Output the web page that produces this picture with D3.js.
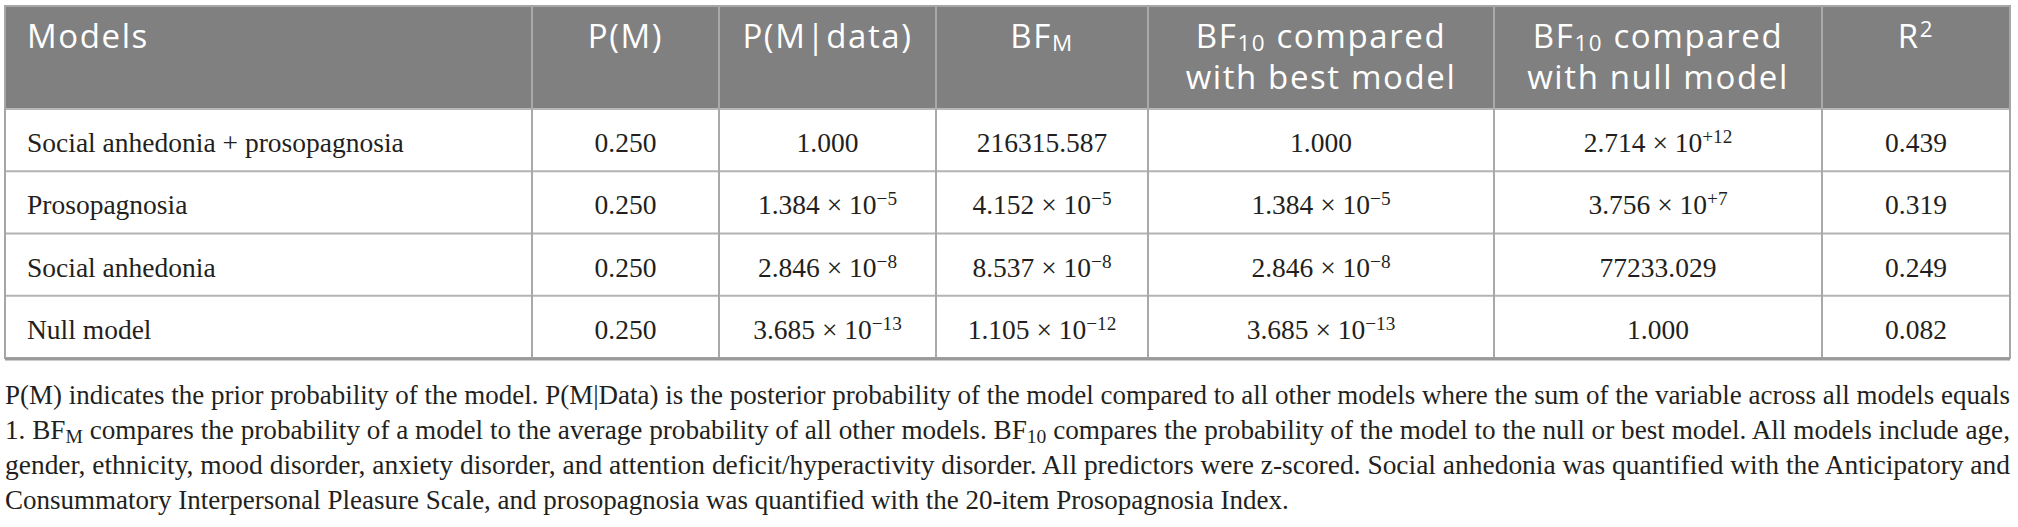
<!DOCTYPE html>
<html>
<head>
<meta charset="utf-8">
<script src="https://cdn.jsdelivr.net/npm/d3@7"></script>
<style>
    html, body { margin: 0; padding: 0; background: #fff; }
    svg { display: block; }
</style>
</head>
<body>
<div id="chart"><svg></svg></div>
<script>
// Table data.
var headers = [
    ['Models'],
    ['P(M)'],
    ['P(M|data)'],
    ['BF_{M}'],
    ['BF_{10} compared', 'with best model'],
    ['BF_{10} compared', 'with null model'],
    ['R^{2}']
];
var models = ['Social anhedonia + prosopagnosia', 'Prosopagnosia', 'Social anhedonia', 'Null model'];
var priorProb = ['0.250', '0.250', '0.250', '0.250'];
var posteriorProb = ['1.000', '1.384e-5', '2.846e-8', '3.685e-13'];
var bfM = ['216315.587', '4.152e-5', '8.537e-8', '1.105e-12'];
var bf10Best = ['1.000', '1.384e-5', '2.846e-8', '3.685e-13'];
var bf10Null = ['2.714e+12', '3.756e+7', '77233.029', '1.000'];
var rSquared = ['0.439', '0.319', '0.249', '0.082'];

var footnote = [
    'P(M) indicates the prior probability of the model. P(M|Data) is the posterior probability of the model compared to all other models where the sum of the variable across all models equals',
    '1. BF_{M} compares the probability of a model to the average probability of all other models. BF_{10} compares the probability of the model to the null or best model. All models include age,',
    'gender, ethnicity, mood disorder, anxiety disorder, and attention deficit/hyperactivity disorder. All predictors were z-scored. Social anhedonia was quantified with the Anticipatory and',
    'Consummatory Interpersonal Pleasure Scale, and prosopagnosia was quantified with the 20-item Prosopagnosia Index.'
];

function ModelTable(root) {
    this.root = d3.select(root);
    this.svg = this.root.select('svg');
    this.width = 2018;
    this.height = 527;
    this.left = 5;
    this.right = 2010;
    this.top = 6;
    this.headBottom = 109;
    this.bottom = 358;
    this.colWidths = [527, 187, 217, 212, 346, 328, 188];
    this.sans = "'Open Sans', sans-serif";
    this.serif = "'Liberation Serif', 'Times New Roman', serif";

    this.columns = [models, priorProb, posteriorProb, bfM, bf10Best, bf10Null, rSquared];
    this._build();
};

ModelTable.prototype._build = function() {
    this.svg
        .attr('width', this.width)
        .attr('height', this.height);

    var edges = [0].concat(Array.from(d3.cumsum(this.colWidths)));
    this.x = d3.scaleLinear()
        .domain([0, d3.sum(this.colWidths)])
        .range([this.left, this.right]);
    this.edges = edges.map(function(e) { return this.x(e); }.bind(this));

    this.y = d3.scaleBand()
        .domain(models)
        .range([this.headBottom, this.bottom]);

    this._drawHeader();
    this._drawBody();
    this._drawGrid();
    this._drawFootnote();
};

// Splits 'BF_{10} x' into pieces, shifting the sub / sup parts.
ModelTable.prototype._appendRich = function(text, str, small, sub, sup) {
    var re = /([_^])\{([^}]*)\}/g, last = 0, m;
    while((m = re.exec(str)) !== null) {
        if(m.index > last)
            text.append('tspan').text(str.slice(last, m.index));
        text.append('tspan')
            .attr('baseline-shift', m[1] == '_' ? sub : sup)
            .attr('font-size', small)
            .text(m[2]);
        last = re.lastIndex;
    }
    if(last < str.length)
        text.append('tspan').text(str.slice(last));
};

ModelTable.prototype._appendValue = function(text, str) {
    if(!/^[\d.]+e[+-]?\d+$/.test(str)) {
        text.text(str);
        return;
    }
    var parts = str.split('e');
    var exp = parts[1].charAt(0) == '-' ? '\u2212' + parts[1].slice(1) : parts[1];
    text.append('tspan').text(parts[0] + ' \u00d7 10');
    text.append('tspan')
        .attr('baseline-shift', '9px')
        .attr('font-size', '70%')
        .text(exp);
};

ModelTable.prototype._drawHeader = function() {
    var self = this;

    this.svg.append('rect')
        .attr('x', this.left)
        .attr('y', this.top)
        .attr('width', this.right - this.left)
        .attr('height', this.headBottom - this.top)
        .attr('fill', '#808080');

    // One text per header line, so the two lines stay apart.
    var lines = [];
    headers.forEach(function(h, i) {
        h.forEach(function(line, k) { lines.push({ col: i, row: k, label: line }); });
    });

    this.svg.append('g').selectAll('text')
        .data(lines)
        .join('text')
        .attr('font-family', this.sans)
        .attr('font-size', 33)
        .attr('letter-spacing', 1.6)
        .attr('fill', '#fff')
        .attr('text-anchor', function(d) { return d.col == 0 ? 'start' : 'middle'; })
        .attr('x', function(d) {
            return d.col == 0 ? self.edges[0] + 22 : (self.edges[d.col] + self.edges[d.col + 1]) / 2;
        })
        .attr('y', function(d) { return 48 + d.row * 41; })
        .each(function(d) {
            self._appendRich(d3.select(this), d.label, '68%', '-3px', '11px');
        });
};

ModelTable.prototype._drawBody = function() {
    var self = this;
    var g = this.svg.append('g')
        .attr('font-family', this.serif)
        .attr('font-size', 27.5)
        .attr('fill', '#231f20');

    this.columns.forEach(function(values, i) {
        g.append('g').selectAll('text')
            .data(values)
            .join('text')
            .attr('x', i == 0 ? self.edges[0] + 22 : (self.edges[i] + self.edges[i + 1]) / 2)
            .attr('y', function(d, r) { return self.y(models[r]) + self.y.bandwidth() / 2 + 12; })
            .attr('text-anchor', i == 0 ? 'start' : 'middle')
            .each(function(d) { self._appendValue(d3.select(this), d); });
    });
};

ModelTable.prototype._drawGrid = function() {
    var self = this;
    var grid = this.svg.append('g')
        .attr('fill', 'none');

    // Row lines.
    grid.selectAll('line.row')
        .data(models.slice(1))
        .join('line')
        .attr('x1', this.left)
        .attr('x2', this.right)
        .attr('y1', function(d) { return self.y(d); })
        .attr('y2', function(d) { return self.y(d); })
        .attr('stroke', '#b3b3b3')
        .attr('stroke-width', 2);

    grid.append('line')
        .attr('x1', this.left)
        .attr('x2', this.right)
        .attr('y1', this.headBottom)
        .attr('y2', this.headBottom)
        .attr('stroke', '#b8b8b8')
        .attr('stroke-width', 2);

    // Column lines.
    grid.selectAll('line.col')
        .data(this.edges.slice(1, -1))
        .join('line')
        .attr('x1', function(d) { return d; })
        .attr('x2', function(d) { return d; })
        .attr('y1', this.top)
        .attr('y2', this.bottom)
        .attr('stroke', '#a9a9a9')
        .attr('stroke-width', 2);

    // Outer frame.
    grid.append('rect')
        .attr('x', this.left)
        .attr('y', this.top)
        .attr('width', this.right - this.left)
        .attr('height', this.bottom - this.top)
        .attr('stroke', '#a6a6a6')
        .attr('stroke-width', 2);

    grid.append('line')
        .attr('x1', this.left)
        .attr('x2', this.right)
        .attr('y1', this.bottom + 1)
        .attr('y2', this.bottom + 1)
        .attr('stroke', '#9a9a9a')
        .attr('stroke-width', 3);
};

ModelTable.prototype._drawFootnote = function() {
    var self = this;
    var g = this.svg.append('g')
        .attr('font-family', this.serif)
        .attr('font-size', 27)
        .attr('fill', '#231f20');

    g.selectAll('text')
        .data(footnote)
        .join('text')
        .attr('x', this.left)
        .attr('y', function(d, i) { return 404 + i * 35; })
        .each(function(d, i) {
            var t = d3.select(this);
            self._appendRich(t, d, '72%', '-4px', '8px');
            if(i < footnote.length - 1)
                t.attr('textLength', self.right - self.left)
                    .attr('lengthAdjust', 'spacingAndGlyphs');
        });
};

var table = new ModelTable('#chart');
</script>
</body>
</html>
